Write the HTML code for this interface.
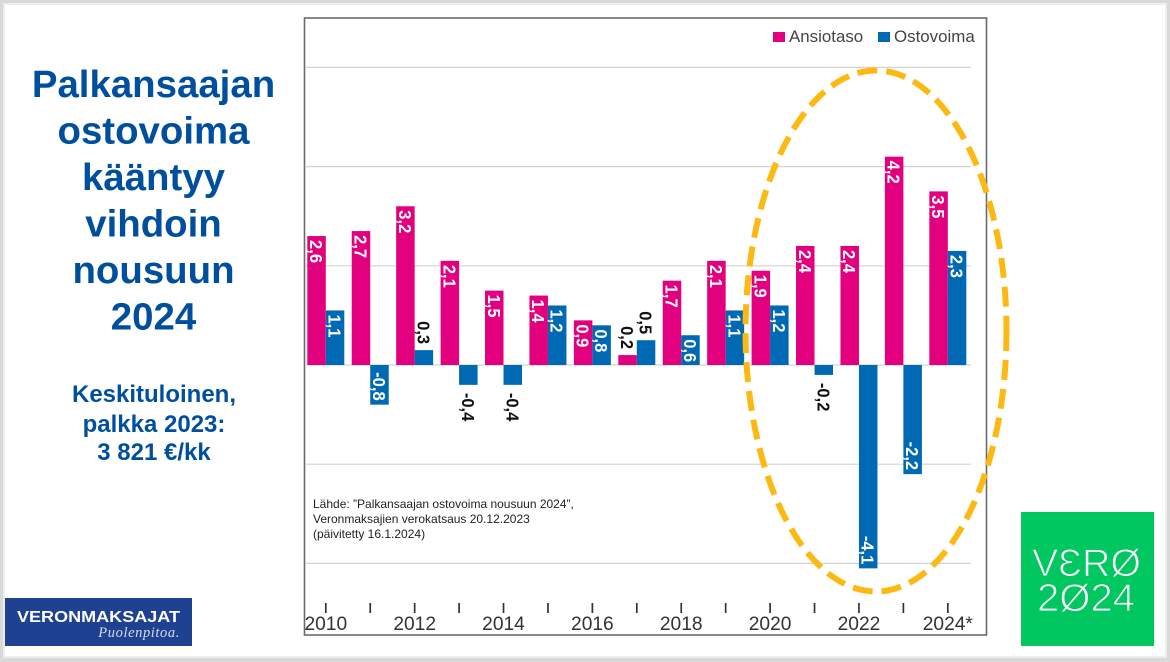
<!DOCTYPE html>
<html lang="fi">
<head>
<meta charset="utf-8">
<title>Palkansaajan ostovoima</title>
<style>
html,body{margin:0;padding:0;width:1170px;height:662px;overflow:hidden;background:#fff}
svg{display:block}
text{font-family:"Liberation Sans",sans-serif}
</style>
</head>
<body>
<svg id="slide" width="1170" height="662" viewBox="0 0 1170 662" xmlns="http://www.w3.org/2000/svg">
  <rect width="1170" height="662" fill="#d9d9d9"/>
  <rect x="3" y="3" width="1164" height="655" fill="#eeeeee"/>
  <rect x="5" y="5" width="1160" height="651" fill="#ffffff"/>

  <g font-weight="700" fill="#004f9e" text-anchor="middle">
    <text x="153.5" y="97" font-size="38.4">Palkansaajan</text>
    <text x="153.5" y="143.5" font-size="38.4">ostovoima</text>
    <text x="153.5" y="190" font-size="38.4">kääntyy</text>
    <text x="153.5" y="236.5" font-size="38.4">vihdoin</text>
    <text x="153.5" y="283" font-size="38.4">nousuun</text>
    <text x="153.5" y="329.5" font-size="38.4">2024</text>
  </g>
  <g font-weight="700" fill="#004f9e" text-anchor="middle" font-size="24">
    <text x="154" y="402">Keskituloinen,</text>
    <text x="154" y="432">palkka 2023:</text>
    <text x="154" y="460">3 821 €/kk</text>
  </g>

  <rect x="304.5" y="18" width="682" height="617" fill="#ffffff" stroke="#6a6a6a" stroke-width="1.6"/>
  <g id="grid"></g>
  <g id="bars"></g>
  <g id="ticks"></g>

  <g>
    <rect x="773" y="32" width="12" height="10" fill="#e2007f"/>
    <text x="789" y="42" font-size="16.9" fill="#444">Ansiotaso</text>
    <rect x="878" y="32" width="12" height="10" fill="#0069b4"/>
    <text x="894" y="42" font-size="16.9" fill="#444">Ostovoima</text>
  </g>

  <g font-size="12" fill="#222">
    <text x="313" y="508">Lähde: ”Palkansaajan ostovoima nousuun 2024”,</text>
    <text x="313" y="523">Veronmaksajien verokatsaus 20.12.2023</text>
    <text x="313" y="538">(päivitetty 16.1.2024)</text>
  </g>

  <ellipse cx="876" cy="331" rx="130.5" ry="260.5" fill="none" stroke="#fdb913" stroke-width="6" stroke-dasharray="20 9"/>

  <g>
    <rect x="5" y="598" width="187" height="48" fill="#1f4192"/>
    <text x="17" y="622" font-size="15.5" font-weight="700" fill="#ffffff" textLength="163" lengthAdjust="spacingAndGlyphs">VERONMAKSAJAT</text>
    <text x="180" y="637" text-anchor="end" font-size="14.5" font-style="italic" fill="#d5dcec" letter-spacing="0.6" style="font-family:'Liberation Serif',serif">Puolenpitoa.</text>
  </g>

  <g>
    <rect x="1021" y="512" width="133" height="134" fill="#00c760"/>
    <g fill="#ffffff" stroke="#00c760" stroke-width="1.1" font-size="39">
      <text x="1032" y="576" textLength="109" lengthAdjust="spacingAndGlyphs">VƐRØ</text>
      <text x="1037" y="611" textLength="98" lengthAdjust="spacingAndGlyphs">2Ø24</text>
    </g>
  </g>
</svg>
<script>
const years = [2010,2011,2012,2013,2014,2015,2016,2017,2018,2019,2020,2021,2022,2023,2024];
const ansiotaso = [2.6,2.7,3.2,2.1,1.5,1.4,0.9,0.2,1.7,2.1,1.9,2.4,2.4,4.2,3.5];
const ostovoima = [1.1,-0.8,0.3,-0.4,-0.4,1.2,0.8,0.5,0.6,1.1,1.2,-0.2,-4.1,-2.2,2.3];
const gridValues = [-4,-2,0,2,4,6];

const NS = 'http://www.w3.org/2000/svg';
const y = v => 365 - 49.6 * v;
const band = i => 307.3 + 44.43 * i;
const BAR_W = 18.5;

function make(tag, parent, attrs, text) {
  const el = document.createElementNS(NS, tag);
  for (const k in attrs) el.setAttribute(k, attrs[k]);
  if (text !== undefined) el.textContent = text;
  parent.appendChild(el);
  return el;
}

const gridG = document.getElementById('grid');
gridValues.forEach(v => {
  const line = make('line', gridG, {x1: 305, x2: 971, y1: y(v), y2: y(v), stroke: '#d3d3d3', 'stroke-width': 1.2});
  
  
});

const barsG = document.getElementById('bars');
function drawBar(v, x, color, series, year) {
  const top = Math.min(y(v), y(0));
  const h = Math.abs(y(v) - y(0));
  const bar = make('rect', barsG, {x: x, y: top, width: BAR_W, height: h, fill: color});
  
  

  const inside = Math.abs(v) > 0.5;
  const cx = x + BAR_W / 2;
  let ly, anchor;
  if (v >= 0) {
    ly = inside ? y(v) + 4 : y(v) - 6;
    anchor = inside ? 'start' : 'end';
  } else {
    ly = inside ? y(v) - 4 : y(v) + 8;
    anchor = inside ? 'end' : 'start';
  }
  const label = make('text', barsG, {
    x: 0, y: 0, dy: '0.36em',
    transform: 'translate(' + cx + ',' + ly + ') rotate(90) scale(0.92,1)',
    'text-anchor': anchor,
    'font-size': 18,
    'font-weight': 700,
    fill: inside ? '#ffffff' : '#111111'
  }, v.toFixed(1).replace('.', ','));
  
  
}
years.forEach((yr, i) => {
  drawBar(ansiotaso[i], band(i), '#e2007f', 'ansiotaso', yr);
  drawBar(ostovoima[i], band(i) + BAR_W, '#0069b4', 'ostovoima', yr);
});

const ticksG = document.getElementById('ticks');
years.forEach((yr, i) => {
  const cx = band(i) + BAR_W;
  const tick = make('line', ticksG, {x1: cx, x2: cx, y1: 603, y2: 613, stroke: '#333', 'stroke-width': 1.7});
  
  
  if (i % 2 === 0) {
    const isLast = i === years.length - 1;
    const t = make('text', ticksG, {x: cx, y: 630, 'text-anchor': 'middle', 'font-size': 19.2, fill: '#333'}, yr + (isLast ? '*' : ''));
    
    
  }
});
</script>
</body>
</html>
